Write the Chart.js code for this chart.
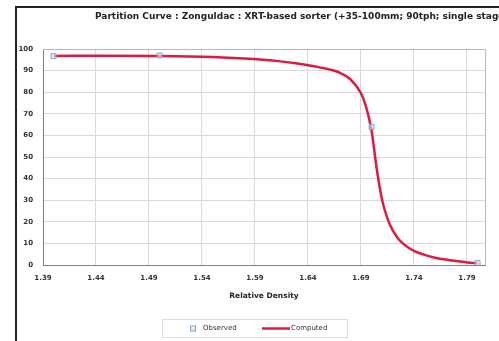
<!DOCTYPE html>
<html>
<head>
<meta charset="utf-8">
<script src="https://cdn.jsdelivr.net/npm/chart.js@4/dist/chart.umd.min.js"></script>
<style>
  html, body { margin: 0; padding: 0; background: #fff; }
  #wrap { position: relative; width: 499px; height: 341px; overflow: hidden; background: #fff; }
  #c { position: absolute; left: 0; top: 0; }
  #frame { position: absolute; left: 15px; top: 6px; width: 600px; height: 400px;
           border-top: 2px solid #222; border-left: 2px solid #222; pointer-events: none; }
</style>
</head>
<body>
<div id="wrap">
  <canvas id="c" width="499" height="341"></canvas>
  <div id="frame"></div>
</div>
<script>
// ---- data ----
const titleText = "Partition Curve : Zonguldac : XRT-based sorter (+35-100mm; 90tph; single stage)";
const xAxisTitle = "Relative Density";
const seriesNames = ["Observed", "Computed"];
const xTickStart = 1.39;
const xTickStep = 0.05;
const observedX = [1.40, 1.50, 1.70, 1.80];
const observedY = [96.7, 97.0, 64.0, 0.9];
const computedX = [1.40, 1.45, 1.50, 1.55, 1.58, 1.61, 1.63, 1.65, 1.67, 1.68, 1.69, 1.695, 1.70, 1.705, 1.71, 1.715, 1.72, 1.725, 1.73, 1.74, 1.75, 1.76, 1.77, 1.78, 1.79, 1.80];
const computedY = [96.8, 96.9, 96.8, 96.3, 95.6, 94.5, 93.3, 91.6, 89.0, 86.0, 79.5, 73.0, 62.0, 44.0, 30.0, 21.5, 16.0, 12.3, 9.8, 6.5, 4.7, 3.4, 2.5, 1.8, 1.2, 0.8];

const FONT = "'DejaVu Sans', Verdana, sans-serif";
const obsPts = observedX.map((x, i) => ({ x, y: observedY[i] }));
const compPts = computedX.map((x, i) => ({ x, y: computedY[i] }));

const CHART_TOP = 49, CHART_LEFT = 43, CHART_RIGHT = 485;

const decor = {
  id: 'decor',
  afterDraw(chart) {
    const ctx = chart.ctx;
    const a = chart.chartArea;
    ctx.save();
    ctx.strokeStyle = '#b8b8b8';
    ctx.lineWidth = 1;
    ctx.beginPath();
    ctx.moveTo(a.left, a.top + 0.5);
    ctx.lineTo(a.right + 0.5, a.top + 0.5);
    ctx.lineTo(a.right + 0.5, a.bottom);
    ctx.stroke();
    // title
    ctx.fillStyle = '#222';
    ctx.font = 'bold 9px ' + FONT;
    ctx.textBaseline = 'middle';
    ctx.textAlign = 'left';
    ctx.fillText(titleText, 95, 17);
    // legend
    const lx = 162, ly = 319, lw = 185, lh = 18;
    ctx.strokeStyle = '#bdbdbd';
    ctx.setLineDash([1, 1]);
    ctx.strokeRect(lx + 0.5, ly + 0.5, lw, lh);
    ctx.setLineDash([]);
    const cy = ly + lh / 2 + 0.5;
    ctx.strokeStyle = '#7fa3c6';
    ctx.fillStyle = 'rgba(215,230,245,0.6)';
    ctx.fillRect(190, cy - 2, 5, 5);
    ctx.strokeRect(190.5, cy - 2.5, 5, 5);
    ctx.fillStyle = '#333';
    ctx.font = '7px ' + FONT;
    ctx.fillText(seriesNames[0], 203, cy);
    ctx.strokeStyle = '#dd1b40';
    ctx.lineWidth = 2.5;
    ctx.beginPath();
    ctx.moveTo(262, cy);
    ctx.lineTo(290, cy);
    ctx.stroke();
    ctx.fillText(seriesNames[1], 291, cy);
    ctx.restore();
  }
};

new Chart(document.getElementById('c'), {
  type: 'scatter',
  data: {
    datasets: [
      {
        label: seriesNames[0],
        data: obsPts,
        showLine: false,
        pointStyle: 'rect',
        pointRadius: 3.5,
        pointBorderWidth: 1,
        pointBorderColor: '#7fa3c6',
        pointBackgroundColor: 'rgba(215,230,245,0.6)',
        order: 0
      },
      {
        label: seriesNames[1],
        data: compPts,
        showLine: true,
        borderColor: '#dd1b40',
        borderWidth: 2.5,
        pointRadius: 0,
        cubicInterpolationMode: 'monotone',
        order: 1
      }
    ]
  },
  options: {
    responsive: false,
    animation: false,
    devicePixelRatio: 1,
    layout: { padding: { top: CHART_TOP, right: 499 - CHART_RIGHT, bottom: 36, left: 0 } },
    plugins: { legend: { display: false }, tooltip: { enabled: false }, title: { display: false } },
    scales: {
      x: {
        type: 'linear',
        min: 1.39,
        max: 1.807,
        afterBuildTicks(scale) {
          const t = [];
          for (let i = 0; i < 9; i++) t.push({ value: +(xTickStart + i * xTickStep).toFixed(2) });
          scale.ticks = t;
        },
        afterFit(scale) { scale.height = 40; },
        grid: { color: '#d9d9d9', drawTicks: false },
        border: { color: '#808080', width: 1 },
        ticks: {
          padding: 9,
          color: '#333',
          font: { family: FONT, size: 7, weight: 'bold' },
          callback: v => v.toFixed(2),
          maxRotation: 0,
          autoSkip: false
        },
        title: {
          display: true,
          text: xAxisTitle,
          color: '#222',
          font: { family: FONT, size: 7.5, weight: 'bold' },
          padding: { top: 2, bottom: 4 }
        }
      },
      y: {
        min: 0,
        max: 100,
        afterFit(scale) { scale.width = CHART_LEFT; },
        grid: { color: '#d9d9d9', drawTicks: false },
        border: { color: '#808080', width: 1 },
        ticks: {
          stepSize: 10,
          padding: 10,
          color: '#333',
          font: { family: FONT, size: 7, weight: 'bold' }
        }
      }
    }
  },
  plugins: [decor]
});
</script>
</body>
</html>
